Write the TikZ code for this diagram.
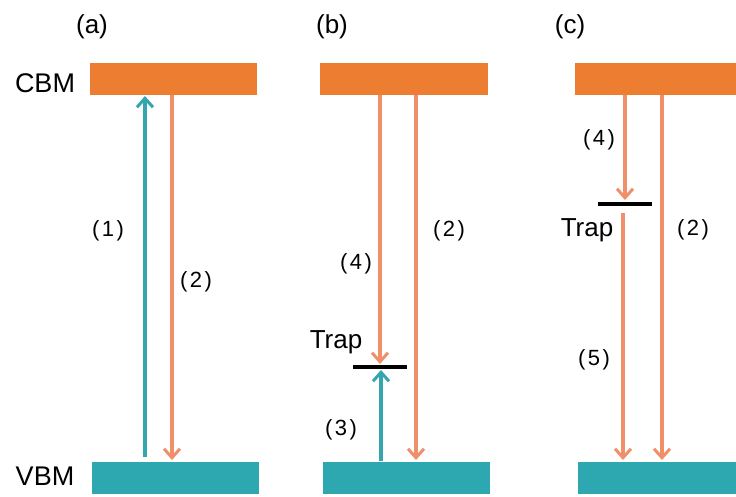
\documentclass[tikz,border=0pt]{standalone}
\usepackage{fontspec}
\setmainfont{Liberation Sans}
\usetikzlibrary{arrows.meta}
\definecolor{bandorange}{HTML}{ED7D31}
\definecolor{bandteal}{HTML}{2EA8B0}
\definecolor{arroworange}{HTML}{F18F6B}
\definecolor{arrowteal}{HTML}{33A6AF}
\tikzset{
  cband/.style={fill=bandorange, draw=none, inner sep=0pt, anchor=north west},
  vband/.style={fill=bandteal, draw=none, inner sep=0pt, anchor=north west},
  tip/.style={-{Straight Barb[length=9pt,width=16pt,line width=3pt]}},
  down/.style={draw=arroworange, line width=3.2pt, tip},
  up/.style={draw=arrowteal, line width=3.2pt, tip},
  trapline/.style={draw=black, line width=3.5pt},
  panel/.style={font=\fontsize{26}{30}\selectfont, anchor=base, inner sep=0pt},
  level/.style={font=\fontsize{27}{30}\selectfont, anchor=base, inner sep=0pt},
  step label/.style={font=\fontsize{22}{26}\selectfont, anchor=base, inner sep=0pt},
}
\newcommand{\stepno}[1]{(\hspace{2.5pt}#1\hspace{2.5pt})}
\begin{document}
\begin{tikzpicture}[x=1pt,y=-1pt]
\useasboundingbox (0,0) rectangle (736,496);

% energy bands
\node[cband, minimum width=167pt, minimum height=32pt] (cbmA) at (90,63) {};
\node[vband, minimum width=167pt, minimum height=32pt] (vbmA) at (92,462) {};
\node[cband, minimum width=168pt, minimum height=32pt] (cbmB) at (320,63) {};
\node[vband, minimum width=167pt, minimum height=32pt] (vbmB) at (323,462) {};
\node[cband, minimum width=161pt, minimum height=32pt] (cbmC) at (575,63) {};
\node[vband, minimum width=158pt, minimum height=32pt] (vbmC) at (578,462) {};

% panel titles and band labels
\node[panel] (ta) at (92,33) {(a)};
\node[panel] (tb) at (332,33) {(b)};
\node[panel] (tc) at (570,33) {(c)};
\node[level] (lcbm) at (45,92) {CBM};
\node[level] (lvbm) at (45,485) {VBM};

% trap levels
\node[inner sep=0pt, minimum width=54pt, minimum height=0pt] (trapB) at (380,367) {};
\node[inner sep=0pt, minimum width=54pt, minimum height=0pt] (trapC) at (625,204) {};
\draw[trapline] (trapB.west) -- (trapB.east);
\draw[trapline] (trapC.west) -- (trapC.east);

% panel (a): excitation and direct recombination
\coordinate (a1s) at (145,457);
\coordinate (a1e) at (145,96);
\coordinate (a2s) at (172,95);
\coordinate (a2e) at (172,460);
\draw[up] (a1s) -- (a1e);
\draw[down] (a2s) -- (a2e);
\node[step label] (la1) at (108,236) {\stepno{1}};
\node[step label] (la2) at (196,287) {\stepno{2}};

% panel (b): trapping of electrons and holes
\coordinate (b4s) at (380,95);
\coordinate (b4e) at (380,364);
\coordinate (b3s) at (381,461);
\coordinate (b3e) at (381,370);
\coordinate (b2s) at (416,95);
\coordinate (b2e) at (416,460);
\draw[down] (b4s) -- (b4e);
\draw[up] (b3s) -- (b3e);
\draw[down] (b2s) -- (b2e);
\node[step label] (lb2) at (449,236) {\stepno{2}};
\node[step label] (lb4) at (356,269) {\stepno{4}};
\node[step label] (lb3) at (341,435) {\stepno{3}};
\node[level, font=\fontsize{26}{30}\selectfont] (lbt) at (336,348) {Trap};

% panel (c): trapping then release to the valence band
\coordinate (c4s) at (625,95);
\coordinate (c4e) at (625,200);
\coordinate (c5s) at (623,213);
\coordinate (c5e) at (623,460);
\coordinate (c2s) at (662,95);
\coordinate (c2e) at (662,460);
\draw[down] (c4s) -- (c4e);
\draw[down] (c5s) -- (c5e);
\draw[down] (c2s) -- (c2e);
\node[step label] (lc4) at (599,145) {\stepno{4}};
\node[step label] (lc2) at (693,235) {\stepno{2}};
\node[step label] (lc5) at (594,365) {\stepno{5}};
\node[level, font=\fontsize{26}{30}\selectfont] (lct) at (587,236) {Trap};
\end{tikzpicture}
\end{document}
